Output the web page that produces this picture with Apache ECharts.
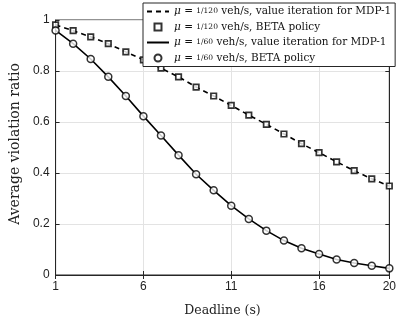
<!DOCTYPE html>
<html>
<head>
<meta charset="utf-8">
<script src="https://cdn.jsdelivr.net/npm/echarts@6/dist/echarts.min.js"></script>
<style>
html, body { margin: 0; padding: 0; background: #fff; }
#chart { width: 399px; height: 322px; }
</style>
</head>
<body>
<div id="chart"></div>
<script>
// deadlines (s)
var deadlines = ['1','2','3','4','5','6','7','8','9','10','11','12','13','14','15','16','17','18','19','20'];
// mu = 1/120 veh/s
var ratioSlow = [0.981, 0.958, 0.934, 0.907, 0.875, 0.844, 0.811, 0.777, 0.737, 0.702,
                 0.665, 0.627, 0.591, 0.553, 0.515, 0.480, 0.444, 0.409, 0.377, 0.349];
// mu = 1/60 veh/s
var ratioFast = [0.959, 0.907, 0.847, 0.777, 0.702, 0.623, 0.547, 0.470, 0.395, 0.332,
                 0.272, 0.220, 0.174, 0.135, 0.105, 0.082, 0.061, 0.047, 0.036, 0.026];
var shownX = [0, 5, 10, 15, 19];   // indexes of the x tick labels 1, 6, 11, 16, 20

var legendText = {
    vi120:  '{i|μ} = {f|1/120} veh/s, value iteration for MDP-1',
    beta120:'{i|μ} = {f|1/120} veh/s, BETA policy',
    vi60:   '{i|μ} = {f|1/60} veh/s, value iteration for MDP-1',
    beta60: '{i|μ} = {f|1/60} veh/s, BETA policy'
};

var chart = echarts.init(document.getElementById('chart'));
var ink = '#262626';
var serif = 'DejaVu Serif';
var sans = 'Liberation Sans';
var square = 'path://M0,0L10,0L10,10L0,10Z';
function xTick(i) { return shownX.indexOf(i) >= 0; }

var option = {
    animation: false,
    grid: { left: 43, right: 9, top: 20, bottom: 41, show: true, borderColor: ink, borderWidth: 1 },
    legend: {
        left: 143, top: 3, orient: 'vertical',
        itemWidth: 22, itemHeight: 7, itemGap: 4.5,
        padding: [3, 4, 3, 3],
        backgroundColor: '#fff', borderColor: ink, borderWidth: 1,
        data: [
            { name: 'vi120' },
            { name: 'beta120', icon: square },
            { name: 'vi60' },
            { name: 'beta60', icon: 'circle' }
        ],
        formatter: function (n) { return legendText[n]; },
        textStyle: {
            fontFamily: serif, fontSize: 10.5, color: '#111',
            rich: {
                i: { fontFamily: serif, fontStyle: 'italic', fontSize: 10.5, color: '#111' },
                f: { fontFamily: serif, fontSize: 7.5, color: '#111' }
            }
        }
    },
    xAxis: [{
        type: 'category', data: deadlines, boundaryGap: false,
        name: 'Deadline (s)', nameLocation: 'middle', nameGap: 29,
        nameTextStyle: { fontFamily: serif, fontSize: 12.5, color: '#222' },
        axisLine: { lineStyle: { color: ink } },
        axisTick: { inside: true, length: 4, interval: function (i) { return xTick(i); }, lineStyle: { color: ink } },
        axisLabel: { interval: function (i) { return xTick(i); }, fontFamily: sans, fontSize: 12, color: '#222', margin: 6 },
        splitLine: { show: true, interval: function (i) { return xTick(i); }, lineStyle: { color: '#e3e3e3' } }
    }, {
        type: 'category', data: deadlines, boundaryGap: false, position: 'top',
        axisLine: { lineStyle: { color: ink } },
        axisTick: { inside: true, length: 4, interval: function (i) { return xTick(i); }, lineStyle: { color: ink } },
        axisLabel: { show: false }, splitLine: { show: false }
    }],
    yAxis: [{
        type: 'value', min: 0, max: 1, interval: 0.2,
        name: 'Average violation ratio', nameLocation: 'middle', nameGap: 33,
        nameTextStyle: { fontFamily: serif, fontSize: 14, color: '#222', padding: [0, 0, 0, 7] },
        axisLine: { show: true, lineStyle: { color: ink } },
        axisTick: { show: true, inside: true, length: 4, lineStyle: { color: ink } },
        axisLabel: { fontFamily: sans, fontSize: 12, color: '#222', margin: 6 },
        splitLine: { show: true, lineStyle: { color: '#e3e3e3' } }
    }, {
        type: 'value', min: 0, max: 1, interval: 0.2, position: 'right',
        axisLine: { show: true, lineStyle: { color: ink } },
        axisTick: { show: true, inside: true, length: 4, lineStyle: { color: ink } },
        axisLabel: { show: false }, splitLine: { show: false }
    }],
    series: [{
        name: 'vi120', type: 'line', data: ratioSlow, symbol: 'none', z: 2,
        itemStyle: { color: '#000', opacity: 0 },
        lineStyle: { color: '#000', width: 1.6, type: [5, 4], opacity: 1 }
    }, {
        name: 'beta120', type: 'scatter', data: ratioSlow, symbol: 'rect', symbolSize: 5.5, z: 3,
        itemStyle: { color: '#fff', borderColor: '#000', borderWidth: 1.7 }
    }, {
        name: 'vi60', type: 'line', data: ratioFast, symbol: 'none', z: 2,
        itemStyle: { color: '#000', opacity: 0 },
        lineStyle: { color: '#000', width: 1.6, opacity: 1 }
    }, {
        name: 'beta60', type: 'scatter', data: ratioFast, symbol: 'circle', symbolSize: 7, z: 3,
        itemStyle: { color: '#fff', borderColor: '#000', borderWidth: 1.5 }
    }]
};
chart.setOption(option);
</script>
</body>
</html>
